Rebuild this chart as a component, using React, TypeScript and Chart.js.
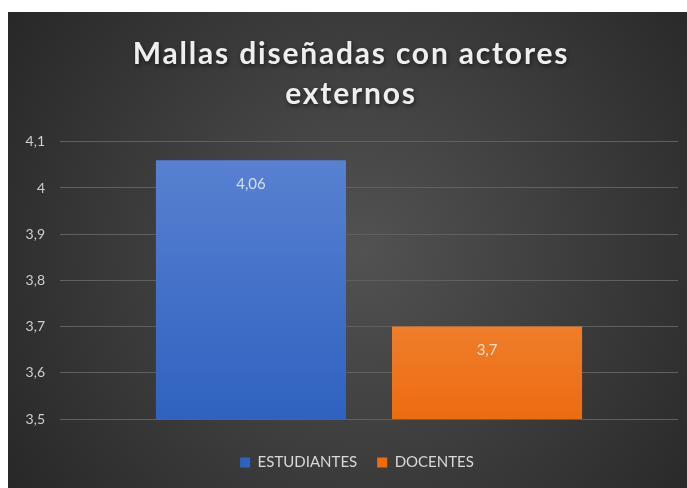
import React, { useEffect, useRef } from "react";
import { Chart, registerables } from "chart.js";

Chart.register(...registerables);

const categories = [""];
const seriesNames = ["ESTUDIANTES", "DOCENTES"];
const estudiantes = [4.06];
const docentes = [3.7];
const yTicks = [3.5, 3.6, 3.7, 3.8, 3.9, 4, 4.1];
const titleLines = ["Mallas diseñadas con actores", "externos"];

const fmt = (v: number) => String(Math.round(v * 100) / 100).replace(".", ",");

function patch(chart: any, box: any, fn: (c: CanvasRenderingContext2D) => void) {
  if (!box || box.__patched) return;
  const orig = box.draw.bind(box);
  box.draw = (...args: any[]) => {
    const c = chart.ctx;
    c.save();
    fn(c);
    orig(...args);
    c.restore();
  };
  box.__patched = true;
}

const bgPlugin = {
  id: "bgPlugin",
  beforeDraw(chart: any) {
    const { ctx, width, height } = chart;
    patch(chart, chart.titleBlock, (c) => {
      c.translate(8, 0);
      (c as any).letterSpacing = "1.8px";
      c.shadowColor = "rgba(0,0,0,0.55)";
      c.shadowBlur = 4;
      c.shadowOffsetX = 1;
      c.shadowOffsetY = 2;
    });
    patch(chart, chart.legend, (c) => {
      c.translate(14, 10);
    });
    ctx.save();
    const g = ctx.createRadialGradient(width * 0.52, height * 0.5, 0, width * 0.52, height * 0.5, width * 0.62);
    g.addColorStop(0, "#525252");
    g.addColorStop(1, "#282828");
    ctx.fillStyle = g;
    ctx.fillRect(0, 0, width, height);
    ctx.restore();
  },
};

const labelPlugin = {
  id: "labelPlugin",
  afterDatasetsDraw(chart: any) {
    const { ctx } = chart;
    ctx.save();
    ctx.font = "15px Lato, 'Open Sans', sans-serif";
    ctx.textAlign = "center";
    ctx.textBaseline = "middle";
    chart.data.datasets.forEach((ds: any, i: number) => {
      const meta = chart.getDatasetMeta(i);
      meta.data.forEach((el: any, j: number) => {
        ctx.fillStyle = i === 0 ? "#d6def2" : "#fbe0cc";
        ctx.fillText(fmt(ds.data[j]), el.x, el.y + 24);
      });
    });
    ctx.restore();
  },
};

function grad(chart: any, top: string, bottom: string, fallback: string) {
  const ca = chart.chartArea;
  if (!ca) return fallback;
  const g = chart.ctx.createLinearGradient(0, ca.top, 0, ca.bottom);
  g.addColorStop(0, top);
  g.addColorStop(1, bottom);
  return g;
}

export default function App() {
  const ref = useRef<HTMLCanvasElement>(null);
  useEffect(() => {
    if (!ref.current) return;
    const chart = new Chart(ref.current, {
      type: "bar",
      data: {
        labels: categories,
        datasets: [
          {
            label: seriesNames[0],
            data: estudiantes,
            backgroundColor: (c: any) => grad(c.chart, "#5b83d2", "#2f62c0", "#4472c4"),
            categoryPercentage: 0.764,
            barPercentage: 0.805,
          },
          {
            label: seriesNames[1],
            data: docentes,
            backgroundColor: (c: any) => grad(c.chart, "#f7a060", "#ec6c10", "#ed7d31"),
            categoryPercentage: 0.764,
            barPercentage: 0.805,
          },
        ],
      },
      options: {
        responsive: false,
        animation: false,
        layout: { padding: { left: 0, right: 9, top: 0, bottom: 18 } },
        plugins: {
          title: {
            display: true,
            text: titleLines,
            color: "#eeeeee",
            font: { family: "Lato, 'Open Sans', sans-serif", size: 30, weight: "bold", lineHeight: 1.33 },
            padding: { top: 22, bottom: 28 },
          },
          legend: {
            position: "bottom",
            labels: {
              color: "#d9d9d9",
              font: { family: "Lato, 'Open Sans', sans-serif", size: 15 },
              boxWidth: 10,
              boxHeight: 10,
              padding: 20,
            },
          },
          tooltip: { enabled: false },
        },
        scales: {
          x: {
            display: true,
            grid: { display: false },
            border: { display: false },
            ticks: { display: false },
            afterFit: (s: any) => {
              s.height = 6;
            },
          },
          y: {
            min: 3.5,
            max: 4.1,
            grid: { color: "#606060", drawTicks: false, lineWidth: 1 },
            border: { display: false },
            ticks: {
              color: "#cfcfcf",
              font: { family: "Lato, 'Open Sans', sans-serif", size: 14 },
              padding: 15,
              callback: (v: any) => fmt(Number(v)),
            },
            afterBuildTicks: (s: any) => {
              s.ticks = yTicks.map((v) => ({ value: v }));
            },
            afterFit: (s: any) => {
              s.width = 52;
            },
          },
        },
      },
      plugins: [bgPlugin, labelPlugin],
    } as any);
    return () => chart.destroy();
  }, []);
  return (
    <div style={{ position: "absolute", left: 8, top: 12, width: 679, height: 476 }}>
      <canvas ref={ref} width={679} height={476} style={{ display: "block" }} />
    </div>
  );
}
